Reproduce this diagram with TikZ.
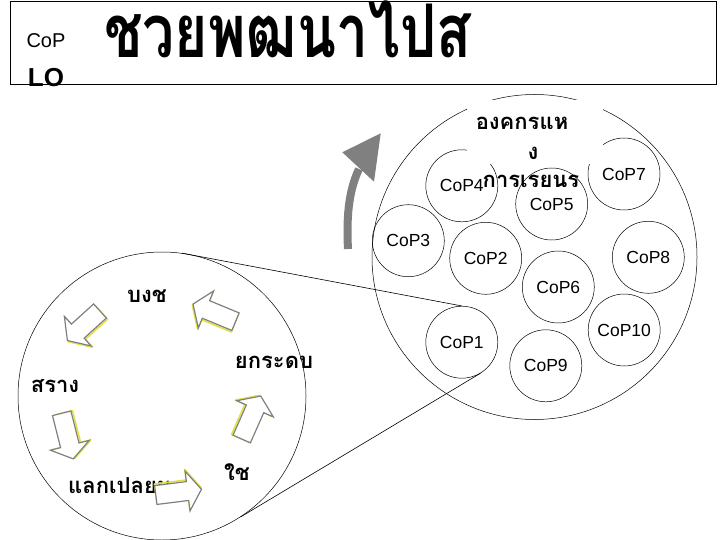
\documentclass[tikz,border=0pt]{standalone}
\usepackage{graphicx}
\usepackage{fontspec}
\setmainfont{Liberation Sans}
\newfontfamily\thai[Script=Thai]{Loma}
\definecolor{arrgray}{RGB}{128,128,128}
\definecolor{glowy}{RGB}{225,225,70}
\begin{document}
\begin{tikzpicture}[x=1pt,y=-1pt,
  cop/.style={circle, draw, line width=0.5pt, minimum size=72pt, inner sep=0pt, font=\fontsize{17.5}{20}\selectfont},
  thl/.style={font=\thai\bfseries\fontsize{22}{26}\selectfont, inner sep=0pt, anchor=base},
  blk/.style={draw=arrgray, line width=1.2pt, fill=white, line join=miter},
  glow/.style={draw=glowy, line width=1.6pt, line join=round},
  pics/barrow/.style={code={
    \draw[glow, yshift=1.6pt] (0,-9.5) -- ({#1-14},-9.5) -- ({#1-14},-20) -- (#1,0) -- ({#1-14},20) -- ({#1-14},9.5) -- (0,9.5) -- cycle;
    \draw[blk] (0,-9.5) -- ({#1-14},-9.5) -- ({#1-14},-20) -- (#1,0) -- ({#1-14},20) -- ({#1-14},9.5) -- (0,9.5) -- cycle;
  }}]
\useasboundingbox (0,0) rectangle (720,540);

% title frame
\draw[line width=0.7pt] (10,1) rectangle (716,84);
\node[font=\fontsize{20}{22}\selectfont, inner sep=0pt] (cop) at (46,41) {CoP};
\node[font=\thai\bfseries\fontsize{74}{80}\selectfont, inner sep=0pt, anchor=base west] (title) at (104,58) {\scalebox{0.77}[1]{ชวยพฒนาไปส}};
\node[font=\bfseries\fontsize{26}{28}\selectfont, inner sep=0pt] (lo) at (46,78) {LO};

% big circle with communities
\node[circle, draw, line width=0.5pt, minimum size=325pt, inner sep=0pt] (big) at (534.5,257) {};
\node[cop] (cop1) at (461.8,342.2) {CoP1};
\node[cop] (cop2) at (485.7,258.3) {CoP2};
\node[cop] (cop3) at (408.3,240.7) {CoP3};
\node[cop] (cop4) at (461.8,185.8) {CoP4};
\node[cop] (cop5) at (551.7,204) {CoP5};
\node[cop] (cop6) at (558.3,287) {CoP6};
\node[cop] (cop7) at (624,174) {CoP7};
\node[cop] (cop8) at (648.3,257.3) {CoP8};
\node[cop] (cop9) at (545.8,365.8) {CoP9};
\node[cop] (cop10) at (624.2,330) {CoP10};

\fill[white] (467,100) rectangle (603,164);
\node[thl] (lo1) at (522,130) {องคกรแห};
\node[thl] (lo2) at (533,160) {ง};
\node[thl] (lo3) at (531,188) {การเรยนร};

% curved grey arrow
\draw[line width=8pt, arrgray] (348,249) .. controls (346,212) and (350,188) .. (359,169);
\fill[arrgray] (380.7,133.3) -- (342.3,152.3) -- (374,181.7) -- cycle;

% left circle (cycle)
\node[circle, draw, line width=0.5pt, minimum size=288pt, inner sep=0pt] (cyc) at (162,396) {};
\draw[line width=0.6pt] (cyc.82.8) -- (cop1.north);
\draw[line width=0.6pt] (cyc.-57.7) -- (cop1.-59);

\node[thl] (s1) at (147,302) {บงช};
\node[thl] (s2) at (55,392) {สราง};
\node[thl, anchor=base west] (s3) at (68,493) {แลกเปลยน};
\node[thl] (s4) at (237,480) {ใช};
\node[thl] (s5) at (274,368) {ยกระดบ};

\pic[rotate=157.5] at (235.5,321.7) {barrow=46};
\pic[rotate=222.2] at (100,311) {barrow=44};
\pic[rotate=284.2] at (61.7,413.3) {barrow=47};
\pic[rotate=7.1] at (155.8,495) {barrow=46};
\pic[rotate=66.1] at (241.7,439) {barrow=47};
\end{tikzpicture}
\end{document}
